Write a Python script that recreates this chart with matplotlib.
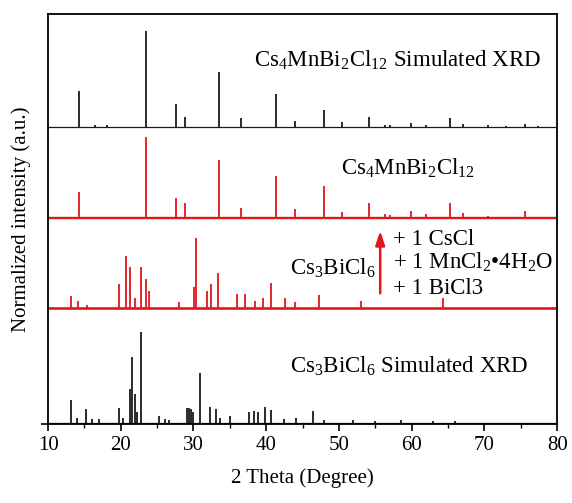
import matplotlib
matplotlib.use('Agg')
import matplotlib.pyplot as plt
import numpy as np

plt.rcParams['font.family'] = ['Liberation Serif', 'DejaVu Serif']
plt.rcParams['mathtext.fontset'] = 'custom'
plt.rcParams['mathtext.rm'] = 'Liberation Serif'
plt.rcParams['mathtext.it'] = 'Liberation Serif'
plt.rcParams['mathtext.default'] = 'regular'

# peak positions (2 theta) and relative heights
sim_mn_pos = [14.25, 16.5, 18.05, 23.4, 27.57, 28.8, 33.47, 36.5, 41.3, 43.95,
              48.0, 50.4, 54.15, 56.4, 57.0, 59.9, 62.0, 65.27, 67.1, 70.5, 73.0, 75.6, 77.4]
sim_mn_int = [0.375, 0.02, 0.02, 1.0, 0.24, 0.107, 0.57, 0.09, 0.34, 0.06,
              0.18, 0.05, 0.11, 0.02, 0.02, 0.04, 0.02, 0.09, 0.03, 0.02, 0.01, 0.03, 0.01]

exp_mn_pos = [14.25, 23.4, 27.57, 28.8, 33.47, 36.5, 41.3, 43.95,
              48.0, 50.4, 54.15, 56.4, 57.0, 59.9, 62.0, 65.27, 67.1, 70.5, 75.6]
exp_mn_int = [0.32, 1.0, 0.25, 0.19, 0.72, 0.13, 0.52, 0.11,
              0.39, 0.08, 0.19, 0.05, 0.04, 0.09, 0.05, 0.19, 0.06, 0.03, 0.09]

exp_bi_pos = [13.1, 14.1, 15.4, 19.75, 20.7, 21.25, 22.0, 22.76, 23.5, 23.86, 28.0,
              30.08, 30.4, 31.87, 32.37, 33.4, 36.0, 37.1, 38.4, 39.55, 40.7, 42.6,
              44.0, 47.2, 53.1, 64.35]
exp_bi_int = [0.17, 0.10, 0.05, 0.35, 0.74, 0.59, 0.15, 0.59, 0.41, 0.24, 0.08,
              0.30, 1.0, 0.24, 0.35, 0.50, 0.20, 0.20, 0.10, 0.15, 0.36, 0.15,
              0.08, 0.19, 0.10, 0.14]

sim_bi_pos = [13.2, 14.0, 15.2, 16.0, 17.05, 19.75, 20.3, 21.25, 21.57, 21.94, 22.2, 22.72,
              25.3, 26.1, 26.6, 29.1, 29.35, 29.65, 30.0, 30.87, 32.33, 33.15, 33.7, 35.07,
              37.6, 38.3, 38.9, 39.8, 40.65, 42.4, 44.1, 46.37, 48.0, 52.0, 55.0, 58.6, 63.0, 66.0]
sim_bi_int = [0.25, 0.06, 0.15, 0.04, 0.04, 0.17, 0.05, 0.37, 0.73, 0.32, 0.12, 1.0,
              0.08, 0.04, 0.03, 0.17, 0.17, 0.15, 0.12, 0.55, 0.18, 0.15, 0.06, 0.08,
              0.12, 0.13, 0.12, 0.18, 0.14, 0.04, 0.05, 0.13, 0.03, 0.03, 0.02, 0.03, 0.02, 0.02]

black = '#1a1a1a'
red = '#e3161d'

# (positions, intensities, baseline, scale, colour, baseline width)
traces = [
    (sim_mn_pos, sim_mn_int, 2.97, 0.96, black, 0.9),
    (exp_mn_pos, exp_mn_int, 2.06, 0.81, red, 1.7),
    (exp_bi_pos, exp_bi_int, 1.16, 0.70, red, 1.9),
    (sim_bi_pos, sim_bi_int, 0.01, 0.91, black, 0.9),
]

fig = plt.figure(figsize=(5.72, 5.03), dpi=100)
ax = fig.add_axes([0.084, 0.157, 0.89, 0.815])

for pos, inten, base, scale, col, bw in traces:
    pos = np.array(pos)
    inten = np.array(inten)
    ax.hlines(base, 10, 80, color=col, lw=bw)
    ax.vlines(pos, base, base + inten * scale, color=col, lw=1.3)

fs = 16.5
ax.text(58.0, 3.57, r'Cs$_4$MnBi$_2$Cl$_{12}$ Simulated XRD', ha='center', va='baseline', fontsize=fs)
ax.text(59.45, 2.49, r'Cs$_4$MnBi$_2$Cl$_{12}$', ha='center', va='baseline', fontsize=fs)
ax.text(49.1, 1.49, r'Cs$_3$BiCl$_6$', ha='center', va='baseline', fontsize=fs)
ax.text(57.5, 1.79, '+ 1 CsCl', ha='left', va='baseline', fontsize=fs)
ax.text(57.5, 1.557, r'+ 1 MnCl$_2$•4H$_2$O', ha='left', va='baseline', fontsize=fs)
ax.text(57.5, 1.30, '+ 1 BiCl3', ha='left', va='baseline', fontsize=fs)
ax.text(59.7, 0.51, r'Cs$_3$BiCl$_6$ Simulated XRD', ha='center', va='baseline', fontsize=fs)

ax.annotate('', xy=(55.67, 1.96), xytext=(55.67, 1.28),
            arrowprops=dict(arrowstyle='-|>,head_length=0.6,head_width=0.2', color=red, lw=1.8,
                            mutation_scale=14))

ax.set_xlim(10, 80)
ax.set_ylim(0, 4.10)
ax.set_xticks(np.arange(10, 81, 10))
ax.set_xticks(np.arange(15, 80, 10), minor=True)
ax.set_yticks([0])
ax.set_yticklabels([''])
ax.tick_params(axis='both', which='major', direction='out', length=5, width=1.2, labelsize=15)
ax.tick_params(axis='x', which='minor', direction='out', length=3, width=1.0)
for s in ax.spines.values():
    s.set_linewidth(1.3)

ax.set_xlabel('2 Theta (Degree)', fontsize=15, labelpad=10)
ax.set_ylabel('Normalized intensity (a.u.)', fontsize=15, labelpad=4)

fig.savefig('out.png', dpi=100)
